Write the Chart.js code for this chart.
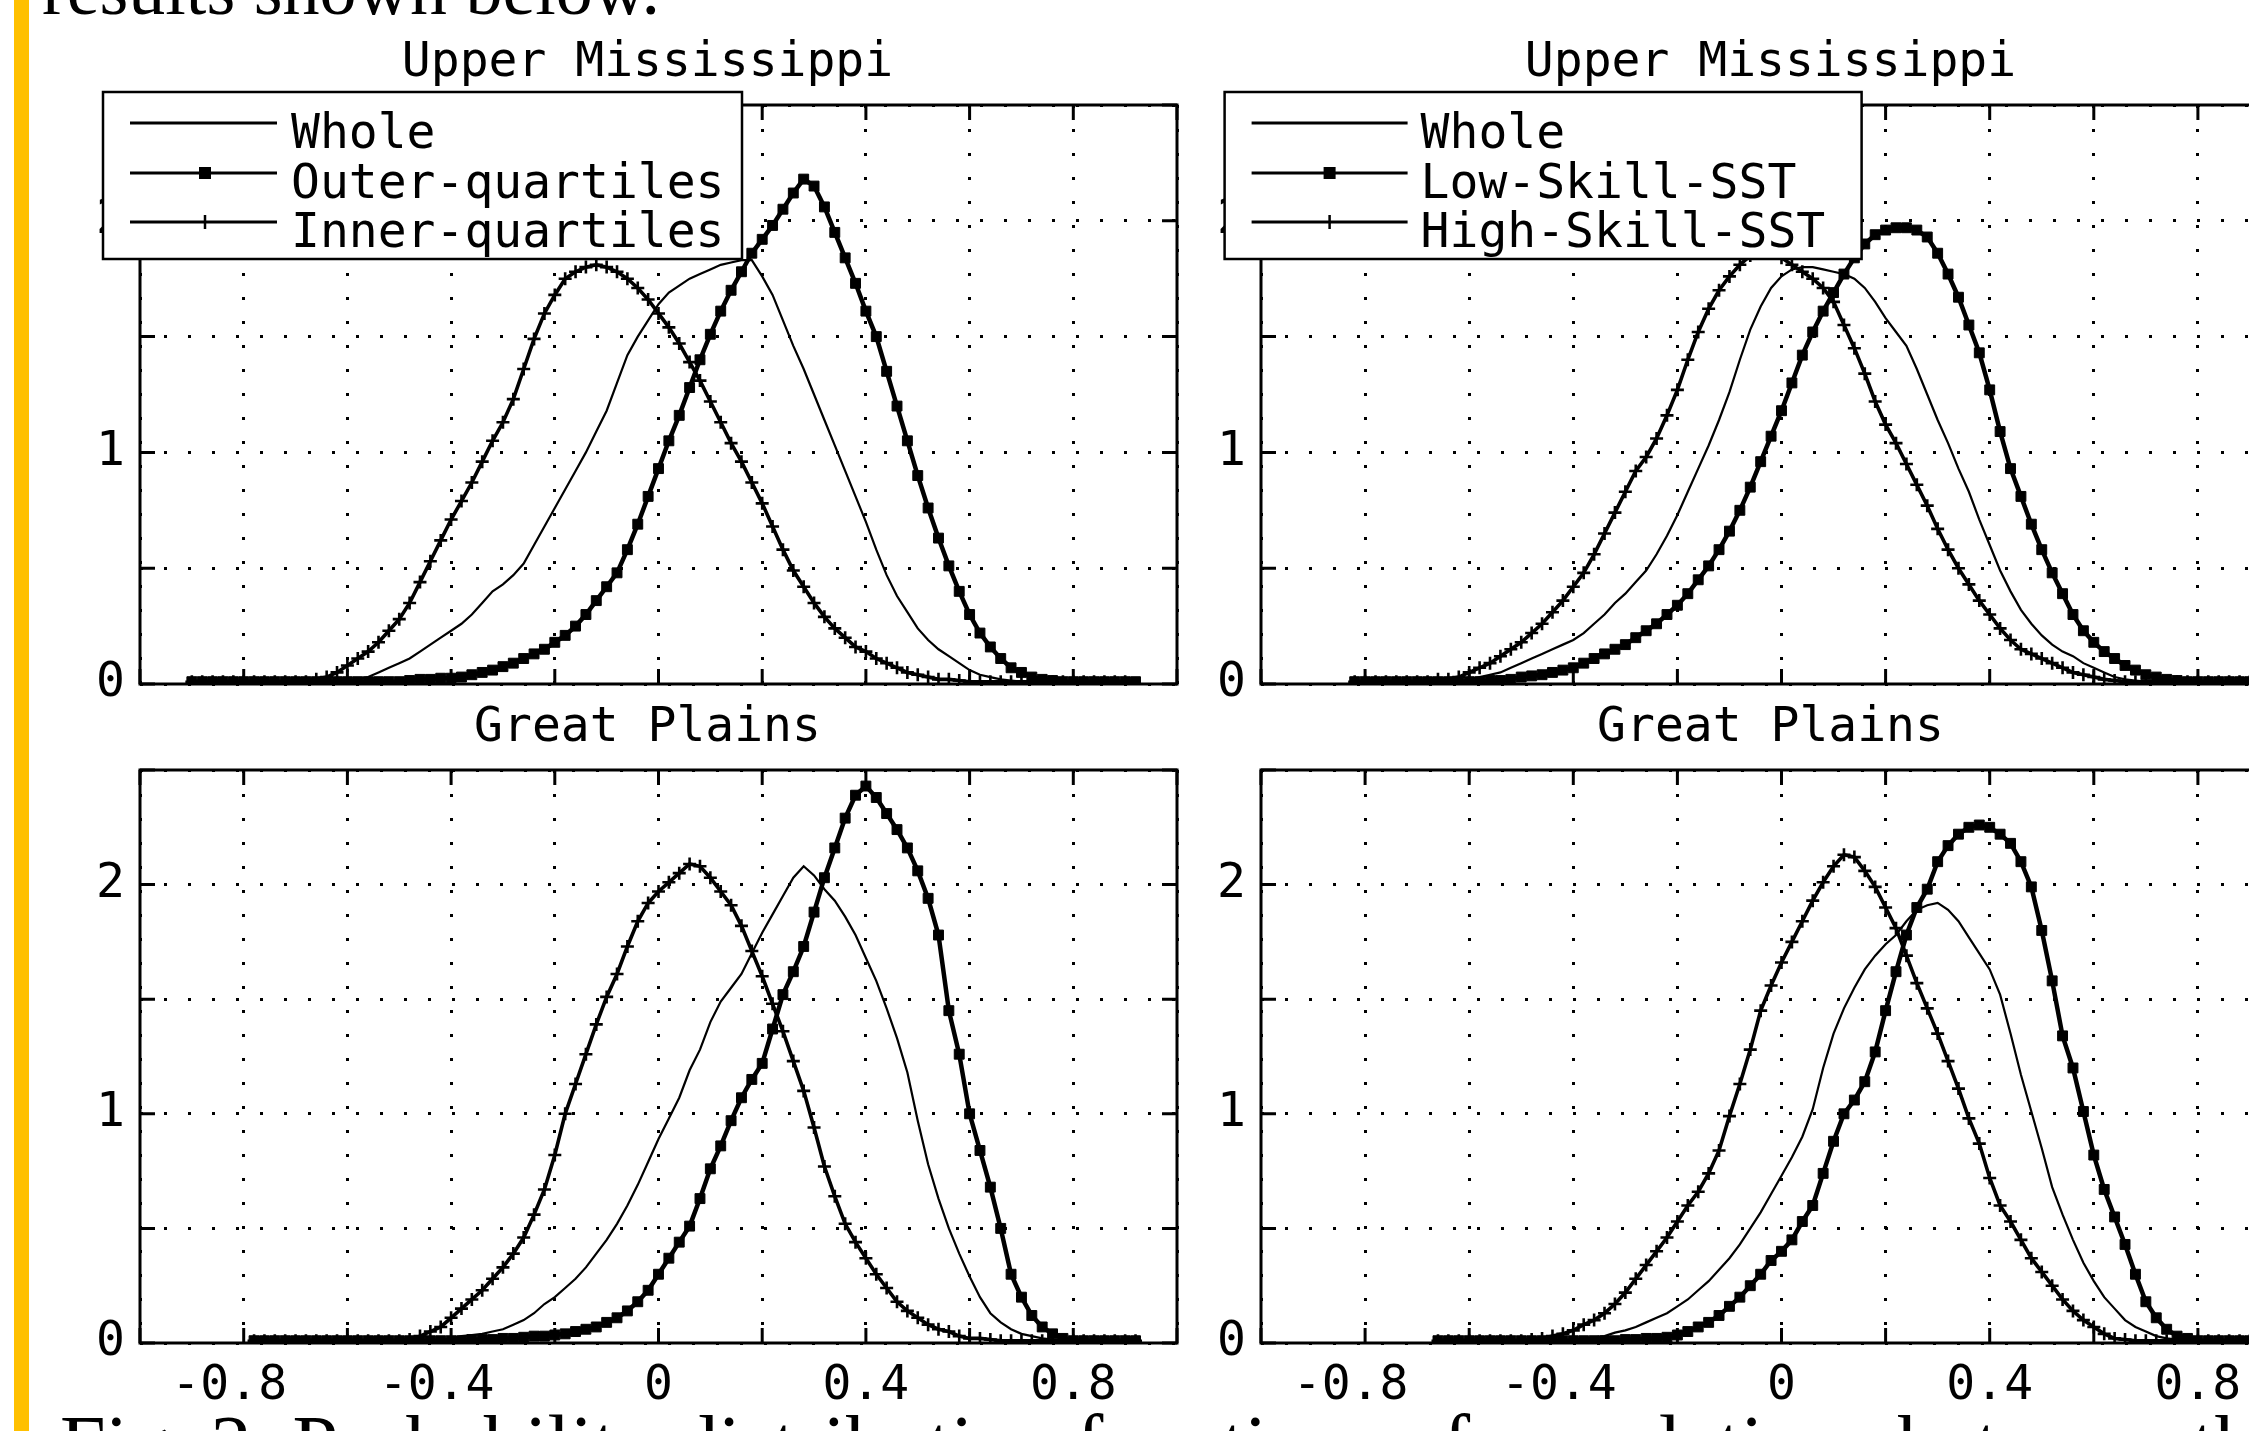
<!DOCTYPE html>
<html><head><meta charset="utf-8">
<script src="https://cdn.jsdelivr.net/npm/chart.js@4.4.1/dist/chart.umd.min.js"></script>
<style>
html,body{margin:0;padding:0;overflow:hidden;background:#fff;}
#page{position:relative;width:2249px;height:1431px;overflow:hidden;background:#fff;}
canvas{position:absolute;}
.bar{position:absolute;left:14px;top:0;width:15px;height:1431px;background:#FFC000;}
.txt{position:absolute;font-family:"Liberation Serif","Times New Roman",serif;color:#000;white-space:nowrap;}
</style></head>
<body><div id="page">
<div class="bar"></div>
<div class="txt" style="left:42px;top:-48px;font-size:74px;line-height:74px;">results shown below.</div>
<div class="txt" style="left:60px;top:1404px;font-size:82px;line-height:82px;">Fig. 2&nbsp;&nbsp;Probability distribution functions of correlations between the modeled</div>
<canvas id="cTL" width="1200" height="694" style="left:40px;top:20px;width:1200px;height:694px;"></canvas>
<canvas id="cTR" width="1200" height="694" style="left:1160px;top:20px;width:1200px;height:694px;"></canvas>
<canvas id="cBL" width="1200" height="741" style="left:40px;top:690px;width:1200px;height:741px;"></canvas>
<canvas id="cBR" width="1200" height="741" style="left:1160px;top:690px;width:1200px;height:741px;"></canvas>
</div>
<script>
// ---------- data ----------
const xGrid = [-0.90,-0.88,-0.86,-0.84,-0.82,-0.80,-0.78,-0.76,-0.74,-0.72,-0.70,-0.68,-0.66,-0.64,-0.62,-0.60,-0.58,-0.56,-0.54,-0.52,-0.50,-0.48,-0.46,-0.44,-0.42,-0.40,-0.38,-0.36,-0.34,-0.32,-0.30,-0.28,-0.26,-0.24,-0.22,-0.20,-0.18,-0.16,-0.14,-0.12,-0.10,-0.08,-0.06,-0.04,-0.02,0.00,0.02,0.04,0.06,0.08,0.10,0.12,0.14,0.16,0.18,0.20,0.22,0.24,0.26,0.28,0.30,0.32,0.34,0.36,0.38,0.40,0.42,0.44,0.46,0.48,0.50,0.52,0.54,0.56,0.58,0.60,0.62,0.64,0.66,0.68,0.70,0.72,0.74,0.76,0.78,0.80,0.82,0.84,0.86,0.88,0.90,0.92,0.94];

const leftLabels = ['Whole','Outer-quartiles','Inner-quartiles'];
const rightLabels = ['Whole','Low-Skill-SST','High-Skill-SST'];
const panelTitles = ['Upper Mississippi','Great Plains'];
const xLabelValues = [-0.8,-0.4,0,0.4,0.8];
const yLabelValues = [0,1,2];

// Upper Mississippi, left
const tlWhole = [
0.01,0.01,0.01,0.01,0.01,
0.01,0.01,0.01,0.01,0.01,
0.01,0.01,0.01,0.01,0.01,
0.015,0.02,0.03,0.05,0.07,
0.09,0.11,0.14,0.17,0.20,
0.23,0.26,0.30,0.35,0.40,
0.43,0.47,0.52,0.60,0.68,
0.76,0.84,0.92,1.00,1.09,
1.18,1.30,1.42,1.50,1.57,
1.64,1.69,1.72,1.75,1.77,
1.79,1.81,1.82,1.83,1.83,
1.76,1.68,1.57,1.46,1.36,
1.25,1.14,1.03,0.92,0.81,
0.70,0.58,0.47,0.38,0.31,
0.24,0.19,0.15,0.12,0.09,
0.06,0.04,0.03,0.02,0.015,
0.01,0.01,0.01,0.01,0.01,
0.01,0.01,0.01,0.01,0.01,
0.01,0.01,null];
const tlOuter = [
0.01,0.01,0.01,0.01,0.01,
0.01,0.01,0.01,0.01,0.01,
0.01,0.01,0.01,0.01,0.01,
0.01,0.01,0.01,0.01,0.01,
0.01,0.015,0.02,0.02,0.025,
0.025,0.03,0.04,0.05,0.06,
0.075,0.09,0.11,0.13,0.15,
0.18,0.21,0.25,0.30,0.36,
0.42,0.48,0.58,0.69,0.81,
0.93,1.05,1.16,1.28,1.40,
1.51,1.61,1.70,1.78,1.86,
1.92,1.98,2.05,2.12,2.18,
2.15,2.06,1.95,1.84,1.73,
1.61,1.50,1.35,1.20,1.05,
0.90,0.76,0.63,0.51,0.40,
0.30,0.22,0.16,0.11,0.07,
0.05,0.03,0.02,0.015,0.01,
0.01,0.01,0.01,0.01,0.01,
0.01,0.01,null];
const tlInner = [
0.01,0.01,0.01,0.01,0.01,
0.01,0.01,0.01,0.01,0.01,
0.01,0.01,0.02,0.03,0.05,
0.08,0.11,0.14,0.18,0.23,
0.28,0.35,0.44,0.53,0.62,
0.71,0.79,0.87,0.96,1.05,
1.13,1.23,1.36,1.49,1.60,
1.68,1.75,1.78,1.80,1.81,
1.80,1.78,1.75,1.71,1.66,
1.60,1.54,1.47,1.39,1.31,
1.22,1.13,1.04,0.96,0.87,
0.78,0.68,0.58,0.49,0.42,
0.35,0.29,0.24,0.20,0.16,
0.14,0.11,0.09,0.07,0.05,
0.04,0.03,0.02,0.02,0.015,
0.01,0.01,0.01,0.01,0.01,
0.01,0.01,0.01,0.01,0.01,
0.01,0.01,0.01,0.01,0.01,
0.01,null,null];

// Upper Mississippi, right
const trWhole = [
null,null,null,null,0.01,
0.01,0.01,0.01,0.01,0.01,
0.01,0.01,0.01,0.01,0.01,
0.02,0.03,0.04,0.05,0.07,
0.09,0.11,0.13,0.15,0.17,
0.19,0.22,0.26,0.30,0.35,
0.39,0.44,0.49,0.56,0.64,
0.73,0.83,0.93,1.03,1.14,
1.26,1.40,1.53,1.63,1.71,
1.76,1.79,1.80,1.80,1.79,
1.78,1.77,1.75,1.71,1.65,
1.58,1.52,1.46,1.36,1.25,
1.14,1.04,0.93,0.83,0.71,
0.60,0.49,0.40,0.32,0.26,
0.21,0.17,0.14,0.12,0.09,
0.07,0.05,0.03,0.02,0.015,
0.01,0.01,0.01,0.01,0.01,
0.01,0.01,0.01,0.01,0.01,
0.01,0.01,0.01];
const trLow = [
null,null,null,null,0.01,
0.01,0.01,0.01,0.01,0.01,
0.01,0.01,0.01,0.01,0.01,
0.01,0.01,0.015,0.015,0.02,
0.03,0.035,0.04,0.05,0.06,
0.07,0.09,0.11,0.13,0.15,
0.17,0.20,0.23,0.26,0.30,
0.34,0.39,0.45,0.51,0.58,
0.66,0.75,0.85,0.96,1.07,
1.18,1.30,1.42,1.52,1.61,
1.69,1.77,1.84,1.90,1.94,
1.96,1.97,1.97,1.96,1.93,
1.86,1.77,1.67,1.55,1.43,
1.27,1.09,0.93,0.81,0.69,
0.58,0.48,0.39,0.30,0.23,
0.18,0.14,0.11,0.08,0.06,
0.04,0.03,0.02,0.015,0.01,
0.01,0.01,0.01,0.01,0.01,
0.01,0.01,0.01];
const trHigh = [
null,null,null,null,0.01,
0.01,0.01,0.01,0.01,0.01,
0.01,0.01,0.02,0.02,0.03,
0.05,0.07,0.09,0.12,0.15,
0.18,0.22,0.26,0.31,0.36,
0.42,0.48,0.56,0.65,0.74,
0.83,0.92,0.98,1.06,1.16,
1.27,1.40,1.52,1.62,1.70,
1.76,1.81,1.85,1.87,1.86,
1.84,1.81,1.78,1.75,1.71,
1.65,1.55,1.45,1.34,1.22,
1.12,1.04,0.95,0.86,0.77,
0.67,0.58,0.50,0.43,0.36,
0.30,0.24,0.19,0.15,0.13,
0.11,0.09,0.07,0.05,0.04,
0.03,0.02,0.015,0.01,0.01,
0.01,0.01,0.01,0.01,0.01,
0.01,0.01,0.01,0.01,0.01,
0.01,0.01,0.01];

// Great Plains, left
const blWhole = [
null,null,null,null,null,
null,0.01,0.01,0.01,0.01,
0.01,0.01,0.01,0.01,0.01,
0.01,0.01,0.01,0.01,0.01,
0.01,0.01,0.01,0.01,0.015,
0.02,0.03,0.035,0.04,0.05,
0.06,0.08,0.10,0.13,0.17,
0.20,0.24,0.28,0.33,0.39,
0.45,0.52,0.60,0.69,0.79,
0.89,0.98,1.07,1.19,1.28,
1.40,1.49,1.55,1.61,1.70,
1.79,1.87,1.95,2.03,2.08,
2.04,1.98,1.93,1.86,1.78,
1.68,1.58,1.46,1.33,1.18,
0.97,0.78,0.63,0.50,0.39,
0.29,0.20,0.13,0.09,0.06,
0.04,0.03,0.02,0.015,0.01,
0.01,0.01,0.01,0.01,0.01,
0.01,0.01,null];
const blOuter = [
null,null,null,null,null,
null,0.01,0.01,0.01,0.01,
0.01,0.01,0.01,0.01,0.01,
0.01,0.01,0.01,0.01,0.01,
0.01,0.01,0.01,0.01,0.01,
0.01,0.01,0.015,0.015,0.015,
0.02,0.02,0.025,0.03,0.03,
0.035,0.04,0.05,0.06,0.07,
0.09,0.11,0.14,0.18,0.23,
0.30,0.37,0.44,0.51,0.63,
0.76,0.86,0.97,1.07,1.15,
1.22,1.37,1.52,1.62,1.73,
1.88,2.03,2.16,2.29,2.39,
2.43,2.38,2.31,2.24,2.16,
2.06,1.94,1.78,1.45,1.26,
1.00,0.84,0.68,0.50,0.30,
0.20,0.12,0.07,0.04,0.02,
0.01,0.01,0.01,0.01,0.01,
0.01,0.01,null];
const blInner = [
null,null,null,null,null,
null,0.01,0.01,0.01,0.01,
0.01,0.01,0.01,0.01,0.01,
0.01,0.01,0.01,0.01,0.01,
0.01,0.015,0.03,0.05,0.07,
0.11,0.15,0.19,0.23,0.28,
0.33,0.39,0.46,0.56,0.67,
0.82,1.00,1.13,1.26,1.39,
1.51,1.61,1.73,1.84,1.92,
1.97,2.01,2.05,2.09,2.08,
2.03,1.97,1.91,1.82,1.71,
1.60,1.48,1.36,1.23,1.10,
0.94,0.77,0.64,0.52,0.44,
0.37,0.30,0.24,0.18,0.14,
0.11,0.08,0.06,0.05,0.03,
0.02,0.02,0.015,0.01,0.01,
0.01,0.01,0.01,0.01,0.01,
0.01,0.01,0.01,0.01,0.01,
0.01,0.01,null];

// Great Plains, right
const brWhole = [
null,null,null,null,null,
null,null,null,null,null,
null,null,0.01,0.01,0.01,
0.01,0.01,0.01,0.01,0.01,
0.01,0.01,0.01,0.01,0.01,
0.015,0.02,0.025,0.03,0.045,
0.055,0.07,0.09,0.11,0.13,
0.16,0.19,0.23,0.27,0.32,
0.37,0.43,0.50,0.57,0.65,
0.73,0.81,0.90,1.02,1.20,
1.35,1.46,1.55,1.63,1.69,
1.74,1.78,1.84,1.89,1.91,
1.92,1.89,1.84,1.77,1.70,
1.63,1.52,1.35,1.17,1.01,
0.85,0.68,0.56,0.45,0.35,
0.27,0.20,0.15,0.10,0.07,
0.05,0.03,0.02,0.015,0.01,
0.01,0.01,0.01,0.01,0.01,
0.01,0.01,0.01];
const brLow = [
null,null,null,null,null,
null,null,null,null,null,
null,null,0.01,0.01,0.01,
0.01,0.01,0.01,0.01,0.01,
0.01,0.01,0.01,0.01,0.01,
0.01,0.01,0.01,0.01,0.01,
0.015,0.015,0.02,0.02,0.025,
0.035,0.05,0.07,0.09,0.12,
0.16,0.20,0.25,0.30,0.36,
0.40,0.45,0.53,0.60,0.74,
0.88,1.00,1.06,1.14,1.27,
1.45,1.62,1.78,1.90,1.98,
2.10,2.17,2.22,2.25,2.26,
2.25,2.22,2.18,2.10,1.99,
1.80,1.58,1.34,1.20,1.01,
0.82,0.67,0.55,0.43,0.30,
0.18,0.11,0.06,0.03,0.02,
0.01,0.01,0.01,0.01,0.01,
0.01,0.01,0.01];
const brHigh = [
null,null,null,null,null,
null,null,null,null,null,
null,null,0.01,0.01,0.01,
0.01,0.01,0.01,0.01,0.01,
0.01,0.015,0.02,0.03,0.04,
0.055,0.08,0.10,0.13,0.17,
0.22,0.28,0.34,0.40,0.46,
0.53,0.60,0.66,0.74,0.84,
0.99,1.13,1.28,1.45,1.56,
1.66,1.75,1.84,1.93,2.01,
2.08,2.13,2.12,2.06,1.99,
1.90,1.81,1.69,1.57,1.46,
1.35,1.23,1.11,0.98,0.87,
0.72,0.60,0.53,0.45,0.37,
0.31,0.25,0.19,0.14,0.10,
0.07,0.04,0.02,0.015,0.01,
0.01,0.01,0.01,0.01,0.01,
0.01,0.01,0.01,0.01,0.01,
0.01,0.01,0.01];

// ---------- rendering ----------
const FAMILY = '"DejaVu Sans Mono", monospace';
const FSIZE = 48;
Chart.defaults.font.family = FAMILY;
Chart.defaults.font.size = FSIZE;
Chart.defaults.color = '#000';

function pts(vals){ return xGrid.map((x,i)=>({x:x, y:vals[i]})); }

function xTickCb(v){
  const r = Math.round(v*10)/10;
  if (!xLabelValues.includes(r)) return '';
  return r < 0 ? String(r) + ' ' : String(Math.abs(r) === 0 ? 0 : r);
}
function yTickCb(v){
  const r = Math.round(v*10)/10;
  return yLabelValues.includes(r) ? String(r) : '';
}

const framePlugin = {
  id: 'matFrame',
  afterDatasetsDraw(chart){
    const {ctx, chartArea:a, scales} = chart;
    const x = scales.x, y = scales.y;
    ctx.save();
    ctx.strokeStyle = '#000'; ctx.lineWidth = 3; ctx.setLineDash([]);
    ctx.beginPath();
    x.ticks.forEach(t => { const p = x.getPixelForValue(t.value);
      ctx.moveTo(p, a.bottom); ctx.lineTo(p, a.bottom - 15);
      ctx.moveTo(p, a.top); ctx.lineTo(p, a.top + 15); });
    y.ticks.forEach(t => { const p = y.getPixelForValue(t.value);
      ctx.moveTo(a.left, p); ctx.lineTo(a.left + 15, p);
      ctx.moveTo(a.right, p); ctx.lineTo(a.right - 15, p); });
    ctx.stroke();
    ctx.strokeRect(a.left, a.top, a.right - a.left, a.bottom - a.top);
    ctx.restore();
  }
};

const titlePlugin = {
  id: 'panelTitle',
  afterDraw(chart, args, opts){
    const {ctx, chartArea:a} = chart;
    ctx.save();
    ctx.font = FSIZE + 'px ' + FAMILY;
    ctx.fillStyle = '#000';
    ctx.textAlign = 'center'; ctx.textBaseline = 'alphabetic';
    ctx.fillText(opts.text, (a.left + a.right)/2 - 11, a.top - 29);
    ctx.restore();
  }
};

const legendPlugin = {
  id: 'boxLegend',
  afterDraw(chart, args, o){
    const {ctx, chartArea:a} = chart;
    const bx = a.left + o.dx, by = a.top + o.dy;
    ctx.save();
    ctx.setLineDash([]);
    ctx.fillStyle = '#fff';
    ctx.fillRect(bx, by, o.w, o.h);
    ctx.strokeStyle = '#000'; ctx.lineWidth = 2.5;
    ctx.strokeRect(bx, by, o.w, o.h);
    chart.data.datasets.forEach((ds, i) => {
      const yy = by + o.rows[i];
      ctx.strokeStyle = '#000'; ctx.lineWidth = 3;
      ctx.beginPath(); ctx.moveTo(bx + 27, yy); ctx.lineTo(bx + o.lineEnd, yy); ctx.stroke();
      const cx = bx + o.markX;
      ctx.fillStyle = '#000';
      if (ds.pointStyle === 'rect') {
        ctx.fillRect(cx - 6, yy - 6, 12, 12);
      } else if (ds.pointStyle === 'cross') {
        ctx.lineWidth = 2.5;
        ctx.beginPath(); ctx.moveTo(cx, yy - 7); ctx.lineTo(cx, yy + 7); ctx.stroke();
      }
      ctx.font = FSIZE + 'px ' + FAMILY;
      ctx.textAlign = 'left'; ctx.textBaseline = 'alphabetic';
      ctx.fillText(ds.label, bx + o.textX, yy + 25);
    });
    ctx.restore();
  }
};

function makeChart(id, c){
  const gridOpts = {color:'#000', lineWidth:3, drawTicks:false};
  const borderOpts = {display:false, dash:[3,21]};
  return new Chart(document.getElementById(id), {
    type: 'line',
    data: { datasets: [
      {label:c.labels[0], data:pts(c.series[0]), borderColor:'#000', borderWidth:2.2, pointRadius:0, tension:0, fill:false},
      {label:c.labels[1], data:pts(c.series[1]), borderColor:'#000', borderWidth:4.5, pointStyle:'rect', pointRadius:7,
       pointBackgroundColor:'#000', pointBorderColor:'#000', pointBorderWidth:1, tension:0, fill:false},
      {label:c.labels[2], data:pts(c.series[2]), borderColor:'#000', borderWidth:3.6, pointStyle:'cross', pointRadius:6.5,
       pointBackgroundColor:'#000', pointBorderColor:'#000', pointBorderWidth:2.6, tension:0, fill:false}
    ]},
    options: {
      responsive:false, animation:false, events:[], devicePixelRatio:1,
      layout:{padding:{left:0, top:c.padTop, right:c.padRight, bottom:0}},
      plugins:{
        legend:{display:false}, tooltip:{enabled:false},
        panelTitle:{text:c.title},
        boxLegend:c.legend
      },
      scales:{
        x:{type:'linear', min:-1, max:1,
           ticks:{stepSize:0.2, autoSkip:false, maxRotation:0, minRotation:0, display:c.xLabels, padding:15, color:'#000', callback:xTickCb},
           grid:gridOpts, border:borderOpts,
           afterFit:(s)=>{ s.height = c.xh; s.paddingLeft = 0; s.paddingRight = 0; }},
        y:{type:'linear', min:0, max:2.5,
           ticks:{stepSize:0.5, autoSkip:false, padding:15, color:'#000', callback:yTickCb},
           grid:gridOpts, border:borderOpts,
           afterFit:(s)=>{ s.width = c.yw; s.paddingTop = 0; s.paddingBottom = 0; }}
      }
    },
    plugins:[framePlugin, titlePlugin, legendPlugin]
  });
}

makeChart('cTL', {labels:leftLabels, series:[tlWhole, tlOuter, tlInner], title:panelTitles[0],
  padTop:85, padRight:63, xh:30, yw:100, xLabels:false,
  legend:{dx:-37, dy:-13, w:639, h:167, rows:[31,81,130], lineEnd:174, markX:102, textX:188}});
makeChart('cTR', {labels:rightLabels, series:[trWhole, trLow, trHigh], title:panelTitles[0],
  padTop:85, padRight:58, xh:30, yw:101, xLabels:false,
  legend:{dx:-36.4, dy:-13, w:637, h:167, rows:[31,81,130], lineEnd:183, markX:105, textX:196}});
makeChart('cBL', {labels:leftLabels, series:[blWhole, blOuter, blInner], title:panelTitles[1],
  padTop:80, padRight:63, xh:88, yw:100, xLabels:true, legend:false});
makeChart('cBR', {labels:rightLabels, series:[brWhole, brLow, brHigh], title:panelTitles[1],
  padTop:80, padRight:58, xh:88, yw:101, xLabels:true, legend:false});
</script>
</body></html>
